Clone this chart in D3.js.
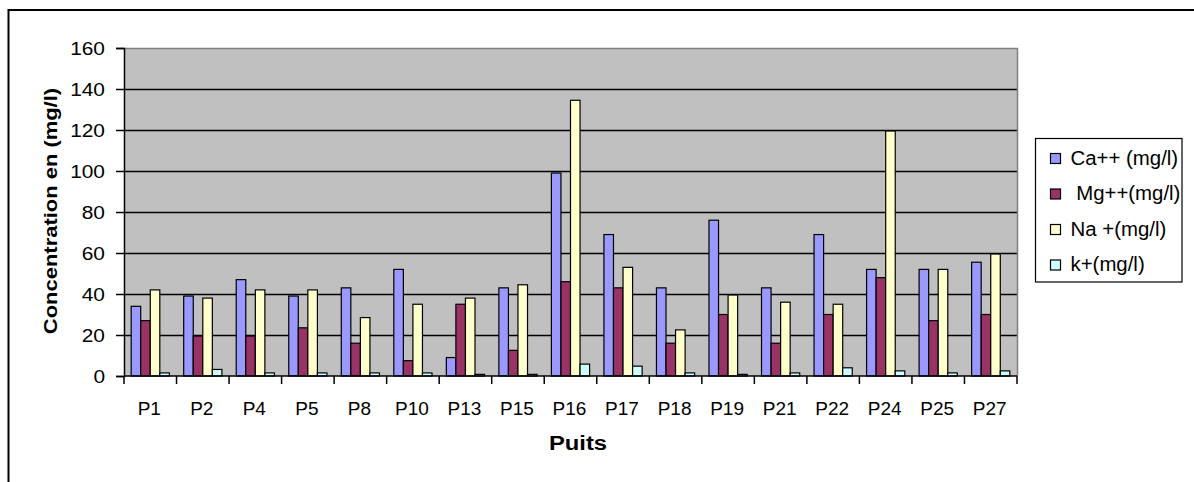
<!DOCTYPE html>
<html>
<head>
<meta charset="utf-8">
<script src="https://cdn.jsdelivr.net/npm/d3@7"></script>
<style>
  body { margin: 0; background: #fff; }
  svg { display: block; }
  text { font-family: "Liberation Sans", Arial, sans-serif; fill: #000; }
</style>
</head>
<body>
<svg id="chart" width="1194" height="482"></svg>
<script>
const categories = ["P1","P2","P4","P5","P8","P10","P13","P15","P16","P17","P18","P19","P21","P22","P24","P25","P27"];
const seriesNames = ["Ca++ (mg/l)", " Mg++(mg/l)", "Na +(mg/l)", "k+(mg/l)"];
const seriesColors = ["#9999FF", "#993366", "#FFFFCC", "#CCFFFF"];
const caValues = [34, 39, 47, 39, 43, 52, 9, 43, 99, 69, 43, 76, 43, 69, 52, 52, 55.5];
const mgValues = [27, 19.5, 19.5, 23.5, 16, 7.5, 35, 12.5, 46, 43, 16, 30, 16, 30, 48, 27, 30];
const naValues = [42, 38, 42, 42, 28.5, 35, 38, 44.5, 134.5, 53, 22.5, 39.5, 36, 35, 119.5, 52, 59.5];
const kValues = [1.5, 3.2, 1.5, 1.5, 1.5, 1.5, 0.8, 0.8, 5.8, 4.8, 1.5, 0.8, 1.5, 4, 2.5, 1.5, 2.5];
const yTicks = [0, 20, 40, 60, 80, 100, 120, 140, 160];
const yTitle = "Concentration en (mg/l)";
const xTitle = "Puits";

const allSeries = [caValues, mgValues, naValues, kValues];

const svg = d3.select("#chart");
const plot = { left: 124, right: 1017, top: 48, bottom: 376 };

// outer frame
svg.append("rect").attr("x", 8.5).attr("y", 10).attr("width", 1200).attr("height", 500)
  .attr("fill", "none").attr("stroke", "#000").attr("stroke-width", 2);

const x0 = d3.scaleBand().domain(categories).range([plot.left, plot.right]).padding(0);
const bw = x0.bandwidth() / 5.5;
const x1 = d3.scaleBand().domain(d3.range(4)).range([0.75 * bw, 4.75 * bw]).padding(0);
const y = d3.scaleLinear().domain([0, 160]).range([plot.bottom, plot.top]);

// plot background
svg.append("rect").attr("x", plot.left).attr("y", plot.top)
  .attr("width", plot.right - plot.left).attr("height", plot.bottom - plot.top)
  .attr("fill", "#C0C0C0");

// gridlines
svg.append("g").selectAll("line").data(yTicks.filter(d => d > 0 && d < 160)).join("line")
  .attr("x1", plot.left).attr("x2", plot.right)
  .attr("y1", d => Math.round(y(d)) + 0.5).attr("y2", d => Math.round(y(d)) + 0.5)
  .attr("stroke", "#000").attr("stroke-width", 1.3);

// top & right border (gray)
svg.append("path")
  .attr("d", `M${plot.left},${plot.top + 0.5}H${plot.right + 0.5}V${plot.bottom}`)
  .attr("fill", "none").attr("stroke", "#808080").attr("stroke-width", 1.5);

// bars
const rows = categories.map((c, i) => ({ cat: c, vals: allSeries.map(s => s[i]) }));
const groups = svg.append("g").selectAll("g").data(rows).join("g")
  .attr("transform", d => `translate(${x0(d.cat)},0)`);
groups.selectAll("rect").data(d => d.vals.map((v, j) => ({ v, j }))).join("rect")
  .attr("x", d => x1(d.j))
  .attr("y", d => y(d.v))
  .attr("width", x1.bandwidth())
  .attr("height", d => y(0) - y(d.v))
  .attr("fill", d => seriesColors[d.j])
  .attr("stroke", "#000").attr("stroke-width", 1.2);

// y axis
const yAxis = d3.axisLeft(y).tickValues(yTicks).tickSize(8).tickPadding(11).tickFormat(d3.format("d"));
const gy = svg.append("g").attr("transform", `translate(${plot.left},0)`).call(yAxis);
gy.select(".domain").attr("stroke", "#000").attr("stroke-width", 1.5);
gy.selectAll(".tick line").attr("stroke", "#000").attr("stroke-width", 1.5);
gy.selectAll(".tick text").attr("font-size", 19).attr("font-family", "Liberation Sans, Arial, sans-serif")
  .attr("transform", "scale(1.1,1)").attr("x", -19 / 1.1).attr("dy", "0.35em");

// x axis: line and ticks between categories
const gx = svg.append("g");
gx.append("line").attr("x1", plot.left).attr("x2", plot.right)
  .attr("y1", plot.bottom).attr("y2", plot.bottom).attr("stroke", "#000").attr("stroke-width", 1.5);
const bounds = categories.map(c => x0(c)).concat([plot.right]);
gx.selectAll("line.tk").data(bounds).join("line").attr("class", "tk")
  .attr("x1", d => d).attr("x2", d => d)
  .attr("y1", plot.bottom).attr("y2", plot.bottom + 8)
  .attr("stroke", "#000").attr("stroke-width", 1.5);
gx.selectAll("text").data(categories).join("text")
  .attr("x", d => x0(d) + x0.bandwidth() / 2 - 1)
  .attr("y", 415)
  .attr("text-anchor", "middle")
  .attr("font-size", 19)
  .text(d => d);

// axis titles
svg.append("text")
  .attr("transform", "translate(57,211) rotate(-90) scale(1.22,1)")
  .attr("text-anchor", "middle").attr("font-weight", "bold").attr("font-size", 18)
  .text(yTitle);
svg.append("text")
  .attr("transform", "translate(578,450) scale(1.19,1)")
  .attr("text-anchor", "middle").attr("font-weight", "bold").attr("font-size", 20)
  .text(xTitle);

// legend
const lg = svg.append("g");
lg.append("rect").attr("x", 1035.5).attr("y", 138.5).attr("width", 146.5).attr("height", 143.5)
  .attr("fill", "#fff").attr("stroke", "#000").attr("stroke-width", 1.2);
const items = lg.selectAll("g").data(seriesNames).join("g")
  .attr("transform", (d, i) => `translate(0,${153.5 + i * 35.5})`);
items.append("rect").attr("x", 1050.5).attr("y", 0).attr("width", 10).attr("height", 10)
  .attr("fill", (d, i) => seriesColors[i]).attr("stroke", "#000").attr("stroke-width", 1.2);
items.append("text")
  .attr("transform", "translate(1070.5,11) scale(1.02,1)")
  .attr("xml:space", "preserve").style("white-space", "pre")
  .attr("font-size", 20)
  .text(d => d);
</script>
</body>
</html>
